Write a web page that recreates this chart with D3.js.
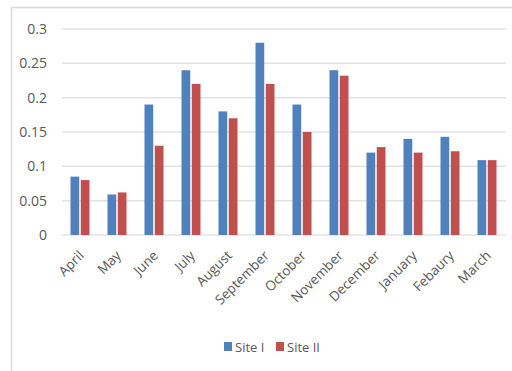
<!DOCTYPE html>
<html>
<head>
<meta charset="utf-8">
<script src="https://cdn.jsdelivr.net/npm/d3@7.9.0/dist/d3.min.js"></script>
<style>
  body { margin: 0; background: #fff; }
  text { font-family: "Open Sans", sans-serif; fill: #595959; }
</style>
</head>
<body>
<svg id="chart" width="512" height="371"></svg>
<script>
// data
const months = ["April", "May", "June", "July", "August", "September",
  "October", "November", "December", "January", "Febaury", "March"];
const siteI  = [0.085, 0.059, 0.19, 0.24, 0.18, 0.28, 0.19, 0.24, 0.12, 0.14, 0.143, 0.109];
const siteII = [0.08, 0.062, 0.13, 0.22, 0.17, 0.22, 0.15, 0.232, 0.128, 0.12, 0.122, 0.109];
const seriesNames = ["Site I", "Site II"];
const colors = ["#4F81BD", "#C0504D"];
const yTicks = [0, 0.05, 0.1, 0.15, 0.2, 0.25, 0.3];

const svg = d3.select("#chart");

// outer chart frame (top + left edges visible)
svg.append("path")
  .attr("d", "M11.5,371 V7.5 H512")
  .attr("fill", "none")
  .attr("stroke", "#d9d9d9")
  .attr("stroke-width", 1.5);

const margin = { top: 29, left: 62, right: 6, bottom: 136 };
const width = 512, height = 371;
const innerW = width - margin.left - margin.right;
const innerH = height - margin.top - margin.bottom;

const g = svg.append("g").attr("transform", `translate(${margin.left},${margin.top})`);

const x = d3.scaleBand().domain(months).range([0, innerW]);
const xs = d3.scaleBand().domain(seriesNames).range([x.bandwidth() / 2 - 10, x.bandwidth() / 2 + 9]).paddingInner(0.15);
const y = d3.scaleLinear().domain([0, 0.3]).range([innerH, 0]);

// gridlines
g.selectAll("line.grid")
  .data(yTicks)
  .enter().append("line")
  .attr("class", "grid")
  .attr("x1", 0).attr("x2", innerW)
  .attr("y1", d => y(d)).attr("y2", d => y(d))
  .attr("stroke", "#e3e3e3")
  .attr("stroke-width", 1.5);

// y labels
g.selectAll("text.ytick")
  .data(yTicks)
  .enter().append("text")
  .attr("class", "ytick")
  .attr("x", -15)
  .attr("y", d => y(d))
  .attr("dy", "0.35em")
  .attr("text-anchor", "end")
  .style("font-size", "14px")
  .text(d => d);

// bars
const rows = months.map((m, i) => ({ month: m, vals: [siteI[i], siteII[i]] }));
const groups = g.selectAll("g.month")
  .data(rows)
  .enter().append("g")
  .attr("transform", d => `translate(${x(d.month)},0)`);

groups.selectAll("rect")
  .data(d => d.vals.map((v, k) => ({ name: seriesNames[k], v, k })))
  .enter().append("rect")
  .attr("x", d => xs(d.name))
  .attr("width", xs.bandwidth())
  .attr("y", d => y(d.v))
  .attr("height", d => innerH - y(d.v))
  .attr("fill", d => colors[d.k]);

// x labels
g.selectAll("text.xtick")
  .data(months)
  .enter().append("text")
  .attr("class", "xtick")
  .attr("transform", d => `translate(${x(d) + x.bandwidth() / 2 + 1},${innerH + 18}) rotate(-45)`)
  .attr("text-anchor", "end")
  .attr("dy", "0.35em")
  .style("font-size", "13.5px")
  .text(d => d);

// legend
const legend = svg.append("g").attr("transform", "translate(224,342)");
const legendItems = [{ name: "Site I", x: 0 }, { name: "Site II", x: 52 }];
legendItems.forEach((it, k) => {
  legend.append("rect")
    .attr("x", it.x).attr("y", 0)
    .attr("width", 8).attr("height", 9)
    .attr("fill", colors[k]);
  legend.append("text")
    .attr("x", it.x + 11).attr("y", 5)
    .attr("dy", "0.35em")
    .style("font-size", "13px")
    .text(it.name);
});
</script>
</body>
</html>
